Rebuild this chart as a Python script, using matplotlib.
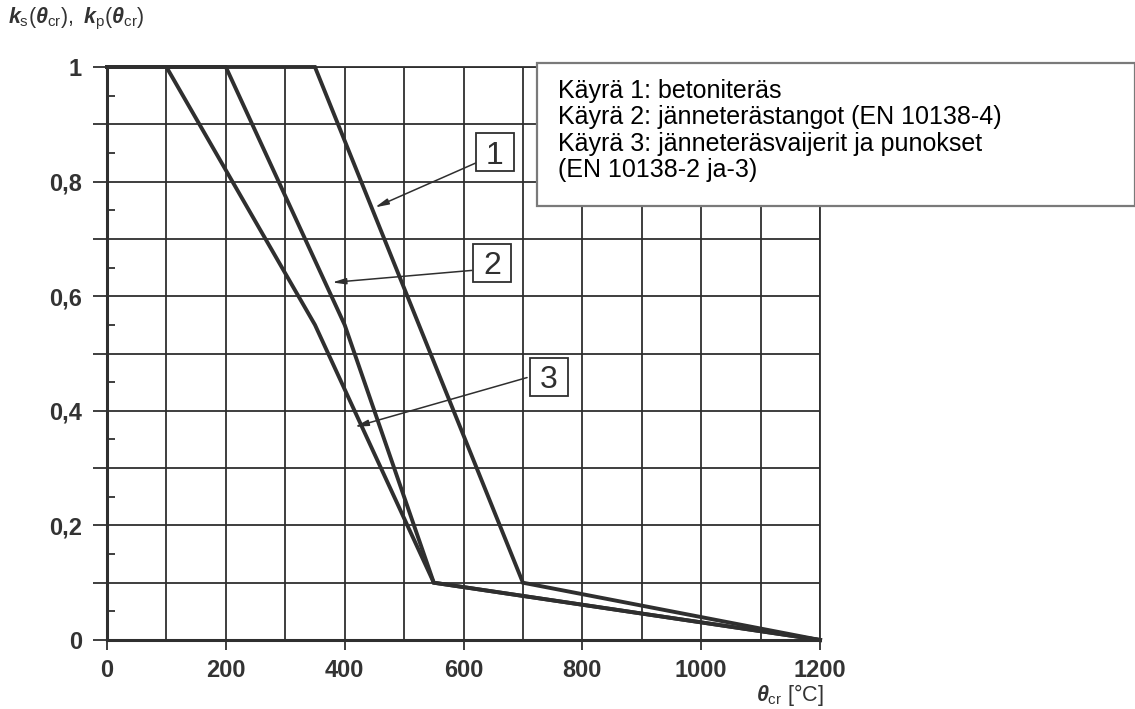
import matplotlib
matplotlib.use("Agg")
import matplotlib.pyplot as plt
from matplotlib.patches import Rectangle

plt.rcParams['font.family'] = ['Liberation Sans', 'DejaVu Sans']
plt.rcParams['mathtext.fontset'] = 'custom'
plt.rcParams['mathtext.it'] = 'Liberation Sans:italic:bold'
plt.rcParams['mathtext.rm'] = 'Liberation Sans'

# Critical temperature curves (EN 1992-1-2): temperature [°C] vs reduction factor
curve1_T = [0, 350, 700, 1200]
curve1_k = [1.0, 1.0, 0.1, 0.0]
curve2_T = [0, 200, 400, 550, 1200]
curve2_k = [1.0, 1.0, 0.55, 0.1, 0.0]
curve3_T = [0, 100, 350, 550, 1200]
curve3_k = [1.0, 1.0, 0.55, 0.1, 0.0]

x_ticks = [0, 200, 400, 600, 800, 1000, 1200]
x_grid = list(range(0, 1201, 100))
y_ticks = [0, 0.1, 0.2, 0.3, 0.4, 0.5, 0.6, 0.7, 0.8, 0.9, 1.0]
y_labels = ['0', '', '0,2', '', '0,4', '', '0,6', '', '0,8', '', '1']
y_minor = [0.05, 0.15, 0.25, 0.35, 0.45, 0.55, 0.65, 0.75, 0.85, 0.95]

# Callout labels: number, box centre, arrow start and arrow tip on its curve
callout_ids = ['1', '2', '3']
callout_box = [(653, 0.851), (648, 0.658), (744, 0.459)]
callout_start = [(624, 0.834), (614, 0.645), (707, 0.458)]
callout_tip = [(451, 0.755), (379, 0.624), (417, 0.372)]

legend_lines = ["Käyrä 1: betoniteräs",
                "Käyrä 2: jänneterästangot (EN 10138-4)",
                "Käyrä 3: jänneteräsvaijerit ja punokset",
                "(EN 10138-2 ja-3)"]

ink = '#2f2f2f'
W, H = 1135, 709
fig = plt.figure(figsize=(W / 100, H / 100), dpi=100)
ax = fig.add_axes([107 / W, 1 - 640 / H, (820 - 107) / W, (640 - 67) / H])
ax.set_xlim(0, 1200)
ax.set_ylim(0, 1)

for x in x_grid:
    ax.axvline(x, color=ink, lw=1.3, zorder=1)
for y in y_ticks:
    ax.axhline(y, color=ink, lw=1.3, zorder=1)

for s in ax.spines.values():
    s.set_color(ink)
    s.set_linewidth(1.3)
ax.spines['left'].set_linewidth(2.2)
ax.spines['bottom'].set_linewidth(2.2)

for T, k in [(curve1_T, curve1_k), (curve2_T, curve2_k), (curve3_T, curve3_k)]:
    ax.plot(T, k, color=ink, lw=2.8, solid_joinstyle='miter', zorder=3, clip_on=False)

ax.set_xticks(x_ticks)
ax.set_xticklabels([str(v) for v in x_ticks])
ax.set_yticks(y_ticks)
ax.set_yticklabels(y_labels)
ax.set_yticks(y_minor, minor=True)
ax.tick_params(axis='x', which='major', direction='out', length=7.5, width=1.3,
               color=ink, pad=6, labelsize=17, labelcolor='#333333')
ax.tick_params(axis='y', which='major', direction='out', length=10, width=1.3,
               color=ink, pad=8, labelsize=17, labelcolor='#333333')
ax.tick_params(axis='y', which='minor', direction='in', length=6, width=1.3, color=ink)
for lab in ax.get_xticklabels() + ax.get_yticklabels():
    lab.set_fontweight('bold')

# Callout boxes: fixed size in pixels, converted to data units
px_x = 1200 / (820 - 107)
px_y = 1.0 / (640 - 67)
bw, bh = 38 * px_x, 38 * px_y
for cid, box, st, tip in zip(callout_ids, callout_box, callout_start, callout_tip):
    ax.annotate('', xy=tip, xytext=st,
                arrowprops=dict(arrowstyle='-|>,head_length=0.8,head_width=0.18',
                                color=ink, lw=1.1, shrinkA=0, shrinkB=0), zorder=4)
    ax.add_patch(Rectangle((box[0] - bw / 2, box[1] - bh / 2), bw, bh,
                           fc='white', ec=ink, lw=1.3, zorder=5))
    ax.text(box[0], box[1], cid, fontsize=23, color=ink, ha='center', va='center_baseline',
            zorder=6)

# Legend panel on the upper right
fig.patches.append(Rectangle((537 / W, 1 - 206 / H), (W - 537) / W, (206 - 63) / H,
                             transform=fig.transFigure, fc='white', ec='#7a7a7a',
                             lw=1.6, zorder=10))
fig.text(558 / W, 1 - 79 / H, "\n".join(legend_lines), fontsize=18, color='black',
         ha='left', va='top', linespacing=1.13, zorder=11)

fig.text(8 / W, 1 - 19 / H, r'$k_{\rm s}(\theta_{\rm cr}),\ k_{\rm p}(\theta_{\rm cr})$',
         fontsize=15.5, color='#333333', ha='left', va='center')
fig.text(756 / W, 1 - 695 / H, r'$\theta_{\rm cr}$ [°C]', fontsize=15.5,
         color='#333333', ha='left', va='center')

fig.savefig('out.png', dpi=100, facecolor='white')
